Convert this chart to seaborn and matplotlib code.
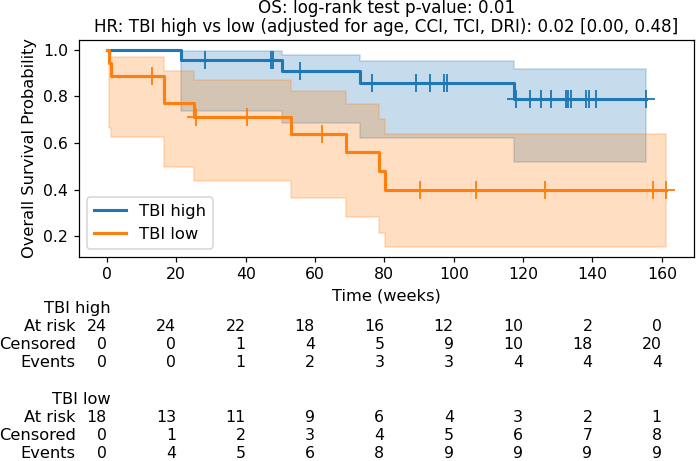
import numpy as np
import pandas as pd
import seaborn as sns
import matplotlib.pyplot as plt
from matplotlib.lines import Line2D
from matplotlib.transforms import blended_transform_factory

# Kaplan-Meier steps (time in weeks)
high_t = [0, 21.3, 50.4, 73.1, 117.5, 155.4]
high_s = [1.0, 0.9583, 0.9104, 0.8598, 0.7882, 0.7882]
high_lo = [1.0, 0.7392, 0.6855, 0.6237, 0.5174, 0.5174]
high_hi = [1.0, 0.9940, 0.9769, 0.9529, 0.9176, 0.9176]

low_t = [0, 0.7, 1.3, 16.5, 25.0, 53.2, 68.9, 78.4, 80.3, 161.2]
low_s = [1.0, 0.9444, 0.8889, 0.7704, 0.7111, 0.6400, 0.5600, 0.4800, 0.4000, 0.4000]
low_lo = [1.0, 0.6664, 0.6241, 0.4972, 0.4384, 0.3636, 0.2840, 0.2154, 0.1555, 0.1555]
low_hi = [1.0, 0.9920, 0.9710, 0.9072, 0.8685, 0.8213, 0.7656, 0.7041, 0.6369, 0.6369]

# censoring ticks
high_cens_t = [28.3, 47.3, 47.9, 55.8, 76.3, 89.1, 93.2, 97.3, 98.0, 118.0,
               122.1, 125.2, 128.1, 132.4, 133.1, 133.8, 138.1, 138.9, 141.1, 155.4]
high_cens_s = [0.9583, 0.9583, 0.9583, 0.9104, 0.8598, 0.8598, 0.8598, 0.8598, 0.8598, 0.7882,
               0.7882, 0.7882, 0.7882, 0.7882, 0.7882, 0.7882, 0.7882, 0.7882, 0.7882, 0.7882]
low_cens_t = [13.0, 25.6, 40.3, 62.0, 90.4, 106.3, 126.2, 157.5, 161.2]
low_cens_s = [0.8889, 0.7111, 0.7111, 0.6400, 0.4000, 0.4000, 0.4000, 0.4000, 0.4000]

# at-risk table
table_ticks = [0, 20, 40, 60, 80, 100, 120, 140, 160]
high_at_risk = [24, 24, 22, 18, 16, 12, 10, 2, 0]
high_censored = [0, 0, 1, 4, 5, 9, 10, 18, 20]
high_events = [0, 0, 1, 2, 3, 3, 4, 4, 4]
low_at_risk = [18, 13, 11, 9, 6, 4, 3, 2, 1]
low_censored = [0, 1, 2, 3, 4, 5, 6, 7, 8]
low_events = [0, 4, 5, 6, 8, 9, 9, 9, 9]

groups = ['TBI high', 'TBI low']
colors = ['#1f77b4', '#ff7f0e']

df = pd.concat([
    pd.DataFrame({'time': high_t, 'surv': high_s, 'group': groups[0]}),
    pd.DataFrame({'time': low_t, 'surv': low_s, 'group': groups[1]}),
])

plt.rcParams['font.size'] = 10.5

W, H, DPI = 696, 461, 111
fig = plt.figure(figsize=(W / DPI, H / DPI), dpi=DPI)
ax = fig.add_axes([79 / W, 1 - 256.7 / H, (694 - 79) / W, (256.7 - 40) / H])

# confidence bands
ax.fill_between(high_t, high_lo, high_hi, step='post', color=colors[0], alpha=0.25, linewidth=1.0)
ax.fill_between(low_t, low_lo, low_hi, step='post', color=colors[1], alpha=0.25, linewidth=1.0)

sns.lineplot(data=df, x='time', y='surv', hue='group', palette=colors,
             estimator=None, errorbar=None, drawstyle='steps-post',
             linewidth=2, legend=False, ax=ax)

ax.plot(high_cens_t, high_cens_s, linestyle='none', marker='+', ms=12, mew=1.2, color=colors[0])
ax.plot(low_cens_t, low_cens_s, linestyle='none', marker='+', ms=12, mew=1.2, color=colors[1])

ax.set_xlim(-8.06, 169.3)
ax.set_ylim(0.113, 1.042)
ax.set_xticks(table_ticks)
ax.set_yticks([0.2, 0.4, 0.6, 0.8, 1.0])
ax.tick_params(labelsize=10.2)
ax.set_xlabel('Time (weeks)')
ax.set_ylabel('Overall Survival Probability')
ax.set_title('OS: log-rank test p-value: 0.01\n'
             'HR: TBI high vs low (adjusted for age, CCI, TCI, DRI): 0.02 [0.00, 0.48]',
             fontsize=10.9, linespacing=1.07, pad=5)

handles = [Line2D([], [], color=c, lw=2) for c in colors]
ax.legend(handles, groups, loc='lower left', fontsize=10.6)

# at-risk table below the axes
trans = blended_transform_factory(ax.transData, fig.transFigure)
row_h = 18.1
blocks = [(308.5, groups[0], [high_at_risk, high_censored, high_events]),
          (308.5 + 5 * row_h, groups[1], [low_at_risk, low_censored, low_events])]
row_names = ['At risk', 'Censored', 'Events']
for y0, name, rows in blocks:
    fig.text(111 / W, 1 - y0 / H, name, ha='right', va='center')
    for r, (rname, vals) in enumerate(zip(row_names, rows)):
        yy = 1 - (y0 + (r + 1) * row_h) / H
        fig.text(75.5 / W, yy, rname, ha='right', va='center')
        for t, v in zip(table_ticks, vals):
            ax.text(t, yy, str(v), ha='right', va='center', transform=trans, fontsize=10.2)

fig.savefig('out.png', dpi=DPI)
